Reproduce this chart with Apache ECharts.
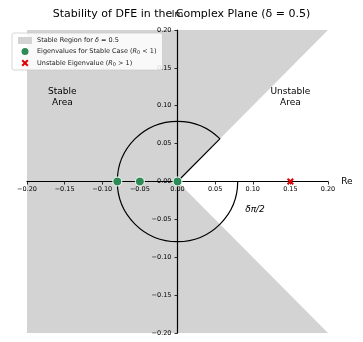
<!DOCTYPE html>
<html>
<head>
<meta charset="utf-8">
<script src="https://cdn.jsdelivr.net/npm/echarts@6/dist/echarts.min.js"></script>
<style>
  html, body { margin: 0; padding: 0; background: #fff; }
  #chart { width: 363px; height: 342px; }
</style>
</head>
<body>
<div id="chart"></div>
<script>
// data
const delta = 0.5
const axisTicks = [-0.2, -0.15, -0.1, -0.05, 0, 0.05, 0.1, 0.15, 0.2]
const stableRegion = [[-0.2, -0.2], [-0.2, 0.2], [0.2, 0.2], [0, 0], [0.2, -0.2]]
const arcRadius = 0.08
const wedgeLine = [[0, 0], [0.0566, 0.0566]]
const stableEig = [[-0.08, 0], [-0.05, 0], [0, 0]]
const unstableEig = [[0.15, 0]]
const areaLabels = [
  { text: 'Stable\nArea', pos: [-0.153, 0.112] },
  { text: 'Unstable\nArea', pos: [0.15, 0.112] }
]
const angleLabel = { text: 'δπ/2', pos: [0.103, -0.037] }

const font = 'DejaVu Sans'
const crossPath = 'path://M0,2 L2,0 L5,3 L8,0 L10,2 L7,5 L10,8 L8,10 L5,7 L2,10 L0,8 L3,5 Z'

// plot box (axes cross in the middle of it)
const gridLeft = 27, gridRight = 35, gridTop = 30, gridBottom = 9
const plotW = 363 - gridLeft - gridRight
const plotH = 342 - gridTop - gridBottom

function fmt(v) {
  const s = Math.abs(v).toFixed(2)
  return v < -1e-9 ? '\u2212' + s : s
}

const chart = echarts.init(document.getElementById('chart'), null, { renderer: 'canvas' })

chart.setOption({
  animation: false,
  title: {
    text: 'Stability of DFE in the Complex Plane (δ = 0.5)',
    left: 'center',
    top: 4,
    z: 20,
    textStyle: { fontFamily: font, fontSize: 11, fontWeight: 'normal', color: '#000' }
  },
  legend: {
    orient: 'vertical',
    left: 12,
    top: 33,
    z: 20,
    padding: [4, 6, 3, 6],
    itemGap: 4,
    itemWidth: 14,
    itemHeight: 7,
    backgroundColor: 'rgba(255,255,255,0.85)',
    borderColor: '#cccccc',
    borderWidth: 0.8,
    borderRadius: 2,
    textStyle: {
      fontFamily: font, fontSize: 6.5, color: '#222',
      rich: {
        n: { fontFamily: font, fontSize: 6.5, color: '#222' },
        i: { fontFamily: font, fontSize: 6.5, color: '#222', fontStyle: 'italic' },
        s: { fontFamily: font, fontSize: 5, color: '#222', verticalAlign: 'bottom', padding: [3, 0, 0, 0] }
      }
    },
    formatter: function (name) {
      if (name === 'stable') return '{n|Stable Region for }{i|δ}{n| = 0.5}'
      if (name === 'eig') return '{n|Eigenvalues for Stable Case (}{i|R}{s|0}{n| < 1)}'
      return '{n|Unstable Eigenvalue (}{i|R}{s|0}{n| > 1)}'
    },
    data: [
      { name: 'stable', icon: 'rect' },
      { name: 'eig', icon: 'circle', itemStyle: { borderWidth: 0 } },
      { name: 'unstable', icon: crossPath }
    ]
  },
  grid: {
    left: gridLeft, right: gridRight, top: gridTop, bottom: gridBottom,
    outerBoundsMode: 'none'
  },
  xAxis: {
    type: 'value',
    position: 'bottom',
    offset: -plotH / 2,
    z: 4,
    min: -0.2, max: 0.2, interval: 0.05,
    name: 'Re',
    nameLocation: 'end',
    nameGap: 4,
    nameTextStyle: { fontFamily: font, fontSize: 9, color: '#000', padding: [7, 0, 0, 0] },
    axisLine: { onZero: false, lineStyle: { color: '#000', width: 1.2 } },
    axisTick: { show: true, length: 3, lineStyle: { color: '#000', width: 0.8 } },
    axisLabel: {
      fontFamily: font, fontSize: 6.5, color: '#000', margin: 4,
      showMinLabel: true, showMaxLabel: true,
      formatter: fmt
    },
    splitLine: { show: false }
  },
  yAxis: {
    type: 'value',
    position: 'left',
    offset: -plotW / 2,
    z: 4,
    min: -0.2, max: 0.2, interval: 0.05,
    name: 'Im',
    nameLocation: 'end',
    nameGap: 11,
    nameTextStyle: { fontFamily: font, fontSize: 9, color: '#000' },
    axisLine: { onZero: false, lineStyle: { color: '#000', width: 1.2 } },
    axisTick: { show: true, length: 3, lineStyle: { color: '#000', width: 0.8 } },
    axisLabel: {
      fontFamily: font, fontSize: 6.5, color: '#000', margin: 6,
      showMinLabel: true, showMaxLabel: true,
      formatter: fmt
    },
    splitLine: { show: false }
  },
  series: [
    {
      name: 'stable',
      type: 'custom',
      z: 1,
      itemStyle: { color: '#d3d3d3' },
      data: [0],
      renderItem: function (params, api) {
        const pts = stableRegion.map(p => api.coord(p))
        return {
          type: 'polygon',
          shape: { points: pts },
          style: { fill: '#d3d3d3' }
        }
      }
    },
    {
      name: 'arc',
      type: 'custom',
      z: 3,
      silent: true,
      data: [0],
      renderItem: function (params, api) {
        const c = api.coord([0, 0])
        const r = api.size([arcRadius, 0])[0]
        return {
          type: 'arc',
          shape: { cx: c[0], cy: c[1], r: r, startAngle: 0, endAngle: 2 * Math.PI - delta * Math.PI / 2, clockwise: true },
          style: { stroke: '#000', lineWidth: 1.2, fill: null }
        }
      }
    },
    {
      name: 'wedge',
      type: 'line',
      z: 3,
      silent: true,
      symbol: 'none',
      data: wedgeLine,
      lineStyle: { color: '#000', width: 1.2 }
    },
    {
      name: 'eig',
      type: 'scatter',
      z: 5,
      symbol: 'circle',
      symbolSize: 9,
      data: stableEig,
      itemStyle: { color: '#2e8b57', borderColor: '#fff', borderWidth: 1, opacity: 1 }
    },
    {
      name: 'unstable',
      type: 'scatter',
      z: 5,
      symbol: crossPath,
      symbolSize: 7,
      data: unstableEig,
      itemStyle: { color: '#e00000', opacity: 1 }
    },
    {
      name: 'labels',
      type: 'custom',
      z: 4,
      silent: true,
      data: [0],
      renderItem: function (params, api) {
        const children = areaLabels.map(l => {
          const p = api.coord(l.pos)
          return {
            type: 'text',
            x: p[0], y: p[1],
            style: {
              text: l.text, fontFamily: font, fontSize: 9, fill: '#000',
              align: 'center', verticalAlign: 'middle', lineHeight: 11
            }
          }
        })
        const q = api.coord(angleLabel.pos)
        children.push({
          type: 'text',
          x: q[0], y: q[1],
          style: {
            text: angleLabel.text, fontFamily: font, fontSize: 9, fontStyle: 'italic', fill: '#000',
            align: 'center', verticalAlign: 'middle'
          }
        })
        return { type: 'group', children: children }
      }
    }
  ]
})
</script>
</body>
</html>
